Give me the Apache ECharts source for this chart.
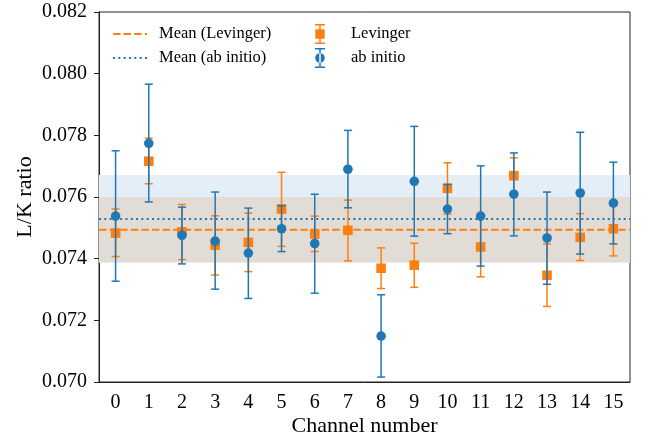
<!DOCTYPE html>
<html>
<head>
<meta charset="utf-8">
<script src="https://cdn.jsdelivr.net/npm/echarts@6/dist/echarts.min.js"></script>
<style>
html,body{margin:0;padding:0;background:#fff;}
#chart{width:648px;height:436px;}
</style>
</head>
<body>
<div id="chart"></div>
<script>
const categories = ['0','1','2','3','4','5','6','7','8','9','10','11','12','13','14','15'];

const levValue = [0.07483,0.07716,0.07487,0.07444,0.07453,0.07561,0.07480,0.07492,0.07369,0.07379,0.07628,0.07438,0.07669,0.07346,0.07469,0.07497];
const levLow   = [0.07407,0.07643,0.07397,0.07347,0.07358,0.07440,0.07423,0.07393,0.07303,0.07307,0.07544,0.07341,0.07610,0.07245,0.07394,0.07409];
const levHigh  = [0.07561,0.07791,0.07576,0.07539,0.07548,0.07680,0.07538,0.07590,0.07435,0.07450,0.07711,0.07535,0.07727,0.07448,0.07546,0.07586];

const abValue = [0.07538,0.07774,0.07476,0.07457,0.07418,0.07497,0.07449,0.07690,0.07149,0.07651,0.07561,0.07538,0.07609,0.07467,0.07613,0.07580];
const abLow   = [0.07327,0.07584,0.07383,0.07301,0.07271,0.07423,0.07288,0.07565,0.07016,0.07473,0.07481,0.07376,0.07474,0.07317,0.07415,0.07448];
const abHigh  = [0.07750,0.07966,0.07567,0.07616,0.07564,0.07572,0.07609,0.07816,0.07283,0.07829,0.07641,0.07701,0.07743,0.07616,0.07810,0.07713];

const meanLev = 0.07494;
const meanAb = 0.07529;
const bandAb = [0.07387, 0.07671];
const bandLev = [0.07388, 0.07600];

const yMin = 0.070, yMax = 0.082, yStep = 0.002;

const FONT = 'Liberation Serif';
const BLUE = '#1f77b4', ORANGE = '#ff7f0e';

const levData = levValue.map((v, i) => [i, v, levLow[i], levHigh[i]]);
const abData = abValue.map((v, i) => [i, v, abLow[i], abHigh[i]]);

function errRender(color, marker) {
  return function (params, api) {
    const x = api.value(0);
    const p = api.coord([x, api.value(1)]);
    const pl = api.coord([x, api.value(2)]);
    const ph = api.coord([x, api.value(3)]);
    const cap = 4;
    const ls = {stroke: color, lineWidth: 1.5};
    const children = [
      {type: 'line', shape: {x1: p[0], y1: ph[1], x2: p[0], y2: pl[1]}, style: ls},
      {type: 'line', shape: {x1: p[0]-cap, y1: ph[1], x2: p[0]+cap, y2: ph[1]}, style: ls},
      {type: 'line', shape: {x1: p[0]-cap, y1: pl[1], x2: p[0]+cap, y2: pl[1]}, style: ls}
    ];
    if (marker === 'circle') {
      children.push({type: 'circle', shape: {cx: p[0], cy: p[1], r: 4.8}, style: {fill: color}});
    } else {
      const s = 9.6;
      children.push({type: 'rect', shape: {x: p[0]-s/2, y: p[1]-s/2, width: s, height: s}, style: {fill: color}});
    }
    return {type: 'group', children: children};
  };
}

function meanRender(color, dash) {
  return function (params, api) {
    const cs = params.coordSys;
    const y = api.coord([0, api.value(1)])[1];
    return {
      type: 'line',
      shape: {x1: cs.x, y1: y, x2: cs.x + cs.width, y2: y},
      style: {stroke: color, lineWidth: 2, lineDash: dash}
    };
  };
}

// legend icons
function rects(list) {
  return 'path://' + list.map(r => `M${r[0]} ${r[1]}L${r[0]+r[2]} ${r[1]}L${r[0]+r[2]} ${r[1]+r[3]}L${r[0]} ${r[1]+r[3]}Z`).join('');
}
const dashIcon = rects([[0,0,7.4,2],[10.6,0,7.4,2],[21.2,0,7.4,2],[31.8,0,2.2,2]]);
const dotIcon = rects([0,1,2,3,4,5,6].map(k => [k*5.333,0,2,2]));
const sqIcon = rects([[0,0,10,1.5],[4.25,0,1.5,20],[0,18.5,10,1.5],[0.3,5.3,9.4,9.4]]);
const circIcon = rects([[0,0,10,1.5],[4.25,0,1.5,20],[0,18.5,10,1.5]]) +
  'M0.2 10A4.8 4.8 0 1 0 9.8 10A4.8 4.8 0 1 0 0.2 10Z';

const chart = echarts.init(document.getElementById('chart'), null, {renderer: 'canvas'});
chart.setOption({
  animation: false,
  backgroundColor: '#fff',
  textStyle: {fontFamily: FONT, color: '#000'},
  grid: {left: 99, right: 18, top: 12, bottom: 54, outerBoundsMode: 'none', containLabel: false,
         show: true, borderColor: '#222', borderWidth: 1, backgroundColor: 'transparent'},
  legend: [
    {
      orient: 'vertical', left: 108, top: 19, itemWidth: 34, itemHeight: 2, itemGap: 4,
      textStyle: {fontFamily: FONT, fontSize: 16.5, color: '#000', lineHeight: 20, padding: [0,0,0,7]},
      selectedMode: false,
      data: [{name: 'Mean (Levinger)', icon: dashIcon}, {name: 'Mean (ab initio)', icon: dotIcon}]
    },
    {
      orient: 'vertical', left: 310, top: 19, itemWidth: 10, itemHeight: 20, itemGap: 4,
      textStyle: {fontFamily: FONT, fontSize: 16.5, color: '#000', lineHeight: 20, padding: [0,0,0,21]},
      selectedMode: false,
      data: [{name: 'Levinger', icon: sqIcon}, {name: 'ab initio', icon: circIcon}]
    }
  ],
  xAxis: {
    type: 'category', data: categories, boundaryGap: true,
    name: 'Channel number', nameLocation: 'middle', nameGap: 33, nameMoveOverlap: false,
    nameTextStyle: {fontFamily: FONT, fontSize: 22, color: '#000'},
    axisLine: {lineStyle: {color: '#222', width: 1}},
    axisTick: {alignWithLabel: true, length: 5, lineStyle: {color: '#222'}},
    axisLabel: {fontFamily: FONT, fontSize: 20, color: '#000', margin: 11},
    splitLine: {show: false}
  },
  yAxis: {
    type: 'value', min: yMin, max: yMax, interval: yStep,
    name: 'L/K ratio', nameLocation: 'middle', nameGap: 63, nameMoveOverlap: false,
    nameTextStyle: {fontFamily: FONT, fontSize: 22, color: '#000'},
    axisLine: {show: true, lineStyle: {color: '#222', width: 1}},
    axisTick: {show: true, length: 5, lineStyle: {color: '#222'}},
    axisLabel: {fontFamily: FONT, fontSize: 20, color: '#000', margin: 12, formatter: v => v.toFixed(3)},
    splitLine: {show: false}
  },
  series: [
    {
      name: 'bands', type: 'custom', z: 1, data: [], renderItem: () => null, silent: true,
      markArea: {
        silent: true,
        label: {show: false},
        data: [
          [{yAxis: bandAb[0], itemStyle: {color: '#e4eef6'}}, {yAxis: bandAb[1]}],
          [{yAxis: bandLev[0], itemStyle: {color: '#e2dcd6'}}, {yAxis: bandLev[1]}]
        ]
      }
    },
    {
      name: 'Mean (Levinger)', type: 'custom', z: 2, silent: true,
      data: [[0, meanLev]], encode: {x: 0, y: 1},
      itemStyle: {color: ORANGE},
      renderItem: meanRender(ORANGE, [7.4, 3.2])
    },
    {
      name: 'Mean (ab initio)', type: 'custom', z: 2, silent: true,
      data: [[0, meanAb]], encode: {x: 0, y: 1},
      itemStyle: {color: BLUE},
      renderItem: meanRender(BLUE, [2, 3.3])
    },
    {
      name: 'Levinger', type: 'custom', z: 3, data: levData,
      itemStyle: {color: ORANGE},
      encode: {x: 0, y: [1, 2, 3]},
      renderItem: errRender(ORANGE, 'square')
    },
    {
      name: 'ab initio', type: 'custom', z: 4, data: abData,
      itemStyle: {color: BLUE},
      encode: {x: 0, y: [1, 2, 3]},
      renderItem: errRender(BLUE, 'circle')
    }
  ]
});
</script>
</body>
</html>
